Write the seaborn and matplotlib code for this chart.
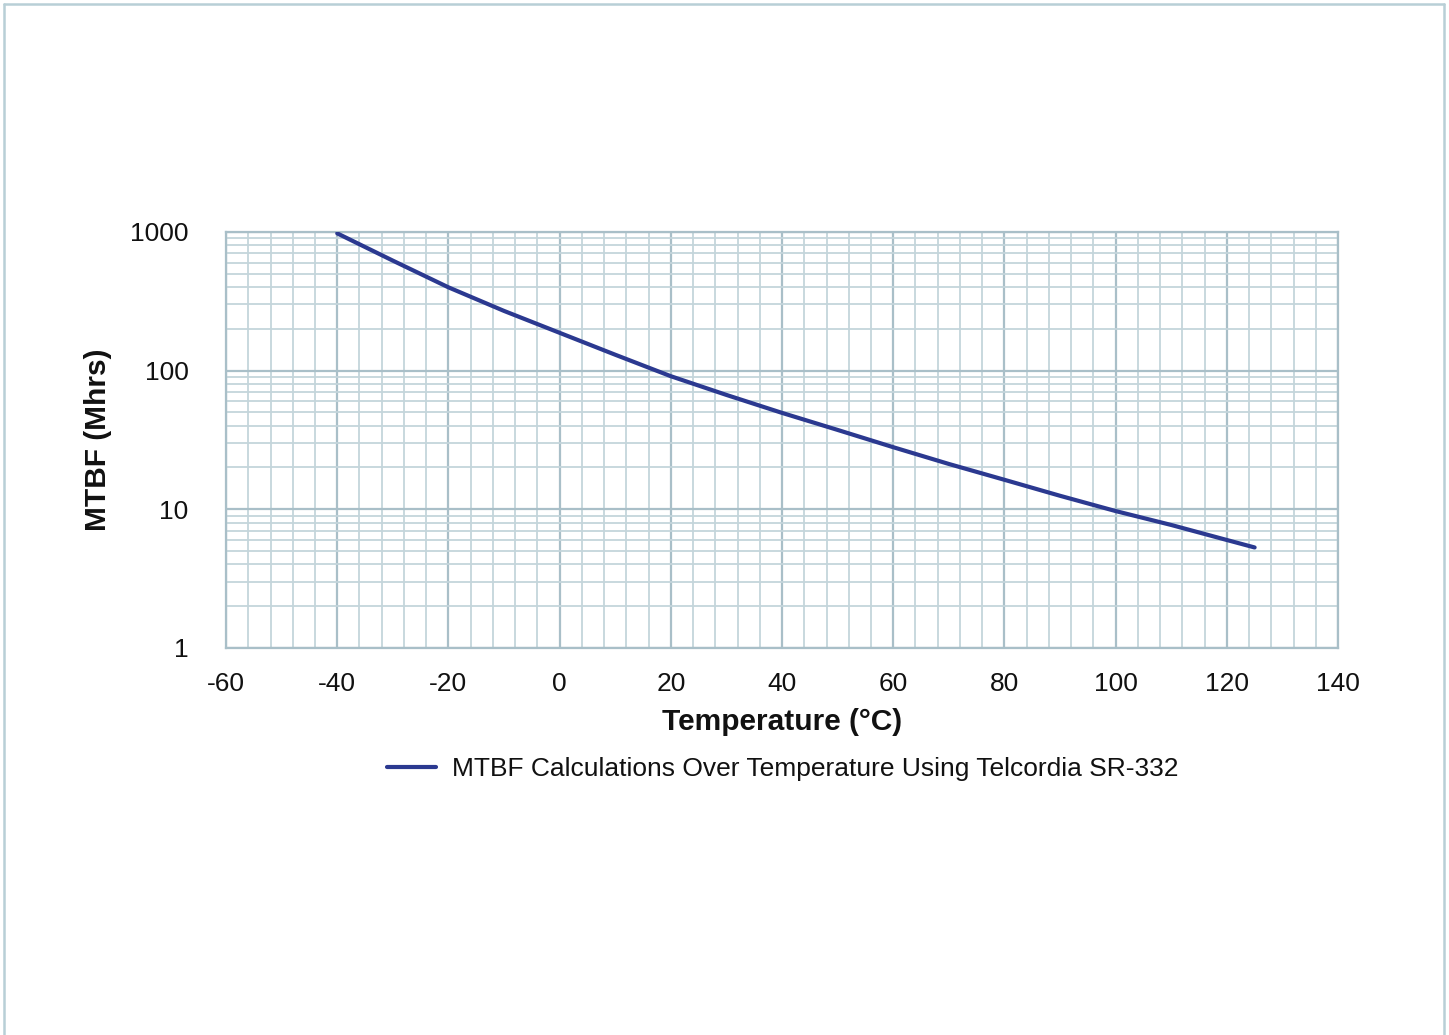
import numpy as np
import pandas as pd
import matplotlib.pyplot as plt
from matplotlib.lines import Line2D
from matplotlib.ticker import FixedLocator, LogLocator, NullFormatter
import seaborn as sns

# MTBF (Mhrs) vs temperature (°C)
temperatura = [-40, -30, -20, -10, 0, 10, 20, 30, 40, 50, 60, 70, 80, 90, 100, 110, 120, 125]
mtbf = [975, 620, 398, 269, 187, 130, 91, 66.7, 49.5, 37.3, 28, 21.2, 16.3, 12.5, 9.7, 7.7, 6.0, 5.3]
xticks = [-60, -40, -20, 0, 20, 40, 60, 80, 100, 120, 140]
yticks = [1, 10, 100, 1000]
rotulo = 'MTBF Calculations Over Temperature Using Telcordia SR-332'

df = pd.DataFrame({'temp': temperatura, 'mtbf': mtbf})

sns.set_style('white')
plt.rcParams['font.family'] = ['Liberation Sans', 'DejaVu Sans']
plt.rcParams['text.color'] = '#111111'
plt.rcParams['axes.labelcolor'] = '#111111'
plt.rcParams['xtick.color'] = '#111111'
plt.rcParams['ytick.color'] = '#111111'

fig = plt.figure(figsize=(14.49, 10.35), dpi=100)
ax = fig.add_axes([0.156, 0.374, 0.7674, 0.402])

sns.lineplot(data=df, x='temp', y='mtbf', color='#2b3990', linewidth=3.0,
             label=rotulo, ax=ax, zorder=5)

ax.set_yscale('log')
ax.set_xlim(-60, 140)
ax.set_ylim(1, 1000)
ax.set_xticks(xticks)
ax.set_xticklabels([str(t) for t in xticks])
ax.xaxis.set_minor_locator(FixedLocator(np.arange(-60, 141, 4)))
ax.set_yticks(yticks)
ax.set_yticklabels([str(t) for t in yticks])
ax.yaxis.set_minor_locator(LogLocator(base=10, subs=np.arange(2, 10)))
ax.yaxis.set_minor_formatter(NullFormatter())

ax.grid(which='major', color='#a9bfc8', linewidth=1.6)
ax.grid(which='minor', color='#c4d5db', linewidth=1.3)
ax.tick_params(which='both', length=0)
ax.tick_params(axis='x', labelsize=19, pad=17)
ax.tick_params(axis='y', labelsize=19, pad=27)
for s in ax.spines.values():
    s.set_color('#a9bfc8')
    s.set_linewidth(1.6)

ax.set_xlabel('Temperature (°C)', fontsize=21.5, fontweight='bold', labelpad=9)
ax.set_ylabel('MTBF (Mhrs)', fontsize=21.5, fontweight='bold', labelpad=13)

ax.legend(loc='center', bbox_to_anchor=(0.540, 0.257), bbox_transform=fig.transFigure,
          frameon=False, fontsize=19, handlelength=1.85, handletextpad=0.6)

# moldura da figura
cor = '#b8cfd6'
fig.add_artist(Line2D([4/1449, 1444/1449], [1 - 4/1035, 1 - 4/1035], color=cor, lw=1.8, transform=fig.transFigure))
fig.add_artist(Line2D([4/1449, 4/1449], [0, 1 - 4/1035], color=cor, lw=1.8, transform=fig.transFigure))
fig.add_artist(Line2D([1444/1449, 1444/1449], [0, 1 - 4/1035], color=cor, lw=1.8, transform=fig.transFigure))

fig.savefig('out.png', dpi=100)
